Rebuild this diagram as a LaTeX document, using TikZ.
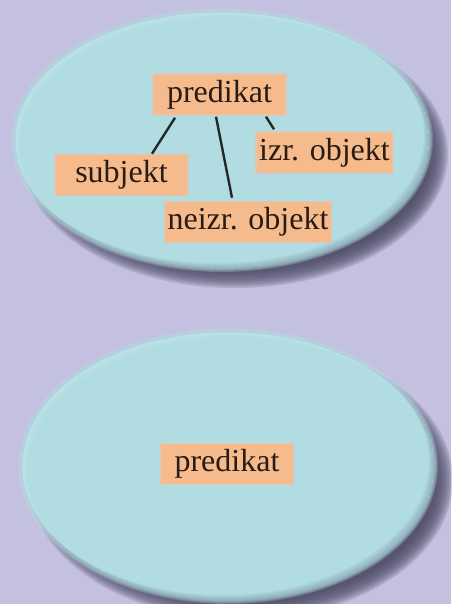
\documentclass[tikz,border=0pt]{standalone}
\usepackage{fontspec}
\setmainfont{Liberation Serif}

\definecolor{bgcol}{HTML}{C4C1E0}
\definecolor{lakecol}{HTML}{B1DDE2}
\definecolor{boxcol}{HTML}{F5BB8C}
\definecolor{rimcol}{HTML}{DCC8B6}
\definecolor{shadecol}{HTML}{4A4862}
\definecolor{inkcol}{HTML}{2A1C14}

\tikzset{%
  every node/.style={
    inner sep=1pt
  },
  word/.style={
    fill=boxcol, draw=rimcol, line width=1.5pt, text=inkcol,
    minimum width=133pt, minimum height=41pt, inner xsep=3pt,
    font=\fontsize{32}{38}\selectfont
  },
  link/.style={line width=2.4pt, draw=black!85}
}

% oval with a soft drop shadow and a slight bevel
\newcommand\blob[4]{%
  \foreach \k in {0,...,9}
    \fill[shadecol, opacity=0.2] (#1+13,#2-14) ellipse ({#3+6-2*\k} and {#4+6-2*\k});
  \foreach \k in {1,...,4}
    \draw[lakecol, opacity=0.25, line width=\k*2pt] (#1,#2) ellipse (#3 and #4);
  \fill[lakecol] (#1,#2) ellipse (#3 and #4);
  \begin{scope}
    \clip (#1,#2) ellipse (#3 and #4);
    \foreach \k in {1,...,5}
      \fill[white, opacity=0.04, even odd rule] (#1,#2) ellipse (#3 and #4)
        (#1+\k,#2-\k) ellipse (#3 and #4);
    \foreach \k in {1,...,5}
      \fill[shadecol, opacity=0.05, even odd rule] (#1,#2) ellipse (#3 and #4)
        (#1-\k,#2+\k) ellipse (#3 and #4);
  \end{scope}}

\begin{document}
\begin{tikzpicture}[x=1pt, y=1pt]
      \fill[bgcol] (0,0) rectangle (451,604);
      \useasboundingbox (0,0) rectangle (451,604);
      \blob{222}{464}{207}{128}
      \blob{228}{138}{206}{134}
      \node[word] at (219.5,509.5) (0) {predikat};
      \node[word] at (121.5,429) (1) {subjekt};
      \node[word] at (324.5,451.5) (2) {izr. objekt};
      \node[word] at (248,382) (3) {neizr. objekt};
      \node[word] at (227,140) (4) {predikat};
      \draw[link] ([xshift=-44.5pt, yshift=-2pt]0.south) -- ([xshift=30.5pt]1.north);
      \draw[link] ([xshift=-3.5pt, yshift=-1pt]0.south) -- ([xshift=-16pt, yshift=3pt]3.north);
      \draw[link] ([xshift=46.5pt, yshift=-1pt]0.south) -- ([xshift=-50.5pt, yshift=2pt]2.north);
    \end{tikzpicture}
\end{document}
